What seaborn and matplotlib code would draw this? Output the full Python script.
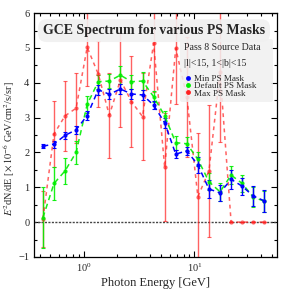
import numpy as np
import pandas as pd
import matplotlib
matplotlib.use("Agg")
import matplotlib.pyplot as plt
import matplotlib.ticker as mticker
from matplotlib.lines import Line2D
import seaborn as sns

# ---- data ----
energy = [0.429, 0.540, 0.679, 0.855, 1.076, 1.355, 1.706, 2.148, 2.704, 3.404,
          4.285, 5.395, 6.792, 8.551, 10.76, 13.55, 17.06, 21.48, 27.04, 34.04, 42.85]

min_vals = [2.18, 2.24, 2.49, 2.65, 3.06, 3.80, 3.67, 3.82, 3.68, 3.65,
            3.36, 2.85, 1.95, 2.05, 1.64, 0.95, 0.84, 1.23, 1.03, 0.75, 0.61]
min_err = [0.06, 0.1, 0.1, 0.12, 0.12, 0.15, 0.15, 0.15, 0.15, 0.15,
           0.12, 0.15, 0.12, 0.12, 0.22, 0.25, 0.22, 0.28, 0.25, 0.3, 0.31]

def_vals = [0.13, 1.11, 1.47, 2.00, 3.38, 4.03, 4.05, 4.22, 4.03, 4.05,
            3.60, 3.05, 2.28, 2.25, 1.80, 1.16, 0.87, 1.35, 1.11, 0.72, 0.60]
def_err = [0.88, 0.48, 0.37, 0.32, 0.25, 0.2, 0.2, 0.25, 0.2, 0.25,
           0.15, 0.15, 0.2, 0.2, 0.2, 0.25, 0.25, 0.25, 0.25, 0.3, 0.3]

max_vals = [0.10, 2.53, 3.05, 3.27, 5.02, 4.25, 3.07, 4.08, 3.46, 3.03,
            5.13, 1.57, 4.99, 3.60, 0.73, 1.47, 4.30, 0.0, 0.0, 0.0, 0.0]
max_err = [0.8, 0.95, 1.0, 1.0, 1.1, 0.95, 1.22, 1.35, 1.3, 1.25,
           1.4, 1.55, 1.6, 1.72, 1.84, 1.9, 2.0, 0.0, 0.0, 0.0, 0.0]

labels = ["Min PS Mask", "Default PS Mask", "Max PS Mask"]
colors = ["#0000ff", "#00ee00", "#ff2020"]

title = "GCE Spectrum for various PS Masks"
info_lines = ["Pass 8 Source Data", "|l|<15, 1<|b|<15"]

# ---- style ----
sns.set_theme(style="ticks")
plt.rcParams["font.family"] = ["Liberation Serif", "DejaVu Serif"]
plt.rcParams["mathtext.fontset"] = "stix"

fig = plt.figure(figsize=(2.82, 2.91), dpi=100)
ax = fig.add_axes([0.121, 0.117, 0.861, 0.838])

series = [
    (max_vals, max_err, colors[2], 0.7, labels[2], (0, (2.5, 2.5))),
    (def_vals, def_err, colors[1], 0.9, labels[1], (0, (3.5, 2.5))),
    (min_vals, min_err, colors[0], 1.0, labels[0], (0, (3.5, 2.5))),
]

ax.axhline(0, color="#444444", lw=1.0, ls=(0, (1.5, 1)), zorder=1)

for vals, err, col, alpha, lab, dash in series:
    df = pd.DataFrame({"E": energy, "v": vals})
    ax.errorbar(energy, vals, yerr=err, fmt="none", ecolor=col, elinewidth=1.0,
                capsize=1.5, capthick=0.8, alpha=alpha, zorder=2)
    sns.lineplot(data=df, x="E", y="v", ax=ax, color=col, lw=1.1, alpha=alpha,
                 linestyle=dash, marker="o", markersize=3,
                 markeredgewidth=0, zorder=3)

ax.set_xscale("log")
ax.set_xlim(0.357, 55.7)
ax.set_ylim(-1, 6)
ax.yaxis.set_major_locator(mticker.MultipleLocator(1))
ax.yaxis.set_minor_locator(mticker.MultipleLocator(0.5))
ax.tick_params(which="both", direction="in", top=True, right=True, labelsize=7.5,
               color="black", width=0.8)
ax.tick_params(which="major", length=4)
ax.tick_params(which="minor", length=2)
for s in ax.spines.values():
    s.set_color("black")
    s.set_linewidth(0.9)

ax.set_xlabel("Photon Energy [GeV]", fontsize=9, labelpad=2)
ax.set_ylabel(r"$E^2$dN/dE [$\times\,10^{-6}$ GeV/cm$^2$/s/sr]", fontsize=7.4, labelpad=1)
ax.yaxis.set_label_coords(-0.072, 0.445)

ax.text(0.494, 0.928, title, transform=ax.transAxes, ha="center", va="center",
        fontsize=10, fontweight="bold",
        bbox=dict(boxstyle="round,pad=0.35,rounding_size=0.6", fc="#f0f0f0", ec="none", alpha=0.9),
        zorder=6)

handles = [Line2D([], [], ls="none", marker="o", ms=3.5, mew=0, color=c) for c in colors]
leg = ax.legend(handles, labels, title=info_lines[0] + "\n" + info_lines[1],
                loc="upper left", bbox_to_anchor=(0.601, 0.3, 0.383, 0.593),
                mode="expand", fontsize=6.6,
                title_fontsize=7.1, frameon=True, fancybox=True, framealpha=0.85,
                facecolor="#f0f0f0", edgecolor="none", handletextpad=0.2,
                handlelength=0.9, labelspacing=-0.12, borderpad=0.45,
                borderaxespad=0.0)
leg._legend_box.align = "left"
leg._legend_box.sep = 4.5
leg.get_title().set_linespacing(2.0)
leg.set_zorder(7)

fig.savefig("out.png", dpi=100)
